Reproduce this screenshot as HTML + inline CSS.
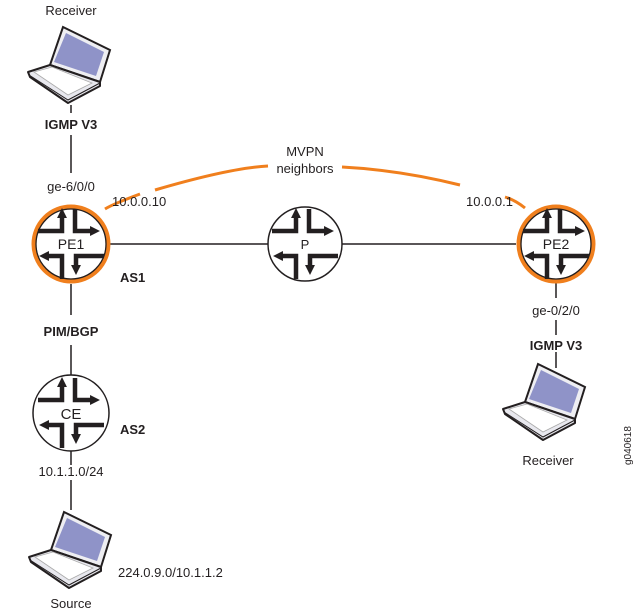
<!DOCTYPE html>
<html><head><style>
body{margin:0;background:#fff;}
svg{display:block;font-family:"Liberation Sans",sans-serif;}
</style></head><body>
<svg width="635" height="616" viewBox="0 0 635 616">
<defs>
<marker id="ah" viewBox="0 0 10 10" refX="4" refY="5" markerWidth="2.2" markerHeight="2.2" orient="auto"><path d="M0,0 L10,5 L0,10z" fill="#231f20"/></marker>
<g id="arrows" stroke="#231f20" stroke-width="4.5" fill="none">
<path d="M-33,-13 H-9 V-30" marker-end="url(#ah)"/>
<path d="M4,-35 V-13 H23" marker-end="url(#ah)"/>
<path d="M-9,35 V12 H-26" marker-end="url(#ah)"/>
<path d="M33,12 H5 V25" marker-end="url(#ah)"/>
</g>
<g id="laptop">
<path d="M35,2 L82,25 L72,57 L22,40 Z" fill="#eeeef2" stroke="#231f20" stroke-width="2"/>
<path d="M38,8 L76,27 L68,51 L26,37 Z" fill="#8f93c8"/>
<path d="M22,40 L72,57 L72,61 L40,78 L2,52 L0,47 Z" fill="#e8e8ee" stroke="#231f20" stroke-width="2" stroke-linejoin="round"/>
<path d="M6,47 L24,42 L64,58 L40,70 Z" fill="#fff" stroke="#aaa" stroke-width="0.8"/>
<path d="M1,50 L40,75 L72,58" stroke="#231f20" stroke-width="1" fill="none"/>
</g>
</defs>

<g stroke="#231f20" stroke-width="1.5">
<line x1="71" y1="105" x2="71" y2="113"/>
<line x1="71" y1="135" x2="71" y2="173"/>
<line x1="110" y1="244" x2="268" y2="244"/>
<line x1="342" y1="244" x2="516" y2="244"/>
<line x1="71" y1="284" x2="71" y2="315"/>
<line x1="71" y1="345" x2="71" y2="375"/>
<line x1="71" y1="451" x2="71" y2="465"/>
<line x1="71" y1="480" x2="71" y2="510"/>
<line x1="556" y1="283" x2="556" y2="298"/>
<line x1="556" y1="320" x2="556" y2="335"/>
<line x1="556" y1="352" x2="556" y2="368"/>
</g>

<path d="M105,209 Q113,204 140,194" stroke="#f07f1d" stroke-width="3" fill="none"/>
<path d="M155,190 Q230,168 268,166" stroke="#f07f1d" stroke-width="3" fill="none"/>
<path d="M342,167 Q400,170 460,185" stroke="#f07f1d" stroke-width="3" fill="none"/>
<path d="M505,197 Q515,200 525,208" stroke="#f07f1d" stroke-width="3" fill="none"/>

<g transform="translate(71,244)"><circle r="37" fill="#fff" stroke="#f07f1d" stroke-width="5"/><circle r="35" fill="none" stroke="#231f20" stroke-width="1.3"/><use href="#arrows"/><text y="5" text-anchor="middle" font-size="14" fill="#231f20">PE1</text></g>
<g transform="translate(305,244)"><circle r="37" fill="#fff" stroke="#231f20" stroke-width="1.5"/><use href="#arrows"/><text y="5" text-anchor="middle" font-size="13" fill="#231f20">P</text></g>
<g transform="translate(556,244)"><circle r="37" fill="#fff" stroke="#f07f1d" stroke-width="5"/><circle r="35" fill="none" stroke="#231f20" stroke-width="1.3"/><use href="#arrows"/><text y="5" text-anchor="middle" font-size="14" fill="#231f20">PE2</text></g>
<g transform="translate(71,413)"><circle r="38" fill="#fff" stroke="#231f20" stroke-width="1.5"/><use href="#arrows"/><text y="6" text-anchor="middle" font-size="15" fill="#231f20">CE</text></g>

<use href="#laptop" transform="translate(28,25)"/>
<use href="#laptop" transform="translate(29,510)"/>
<use href="#laptop" transform="translate(503,362)"/>

<g font-size="13" fill="#231f20">
<text x="71" y="15" text-anchor="middle">Receiver</text>
<text x="71" y="129" text-anchor="middle" font-weight="bold">IGMP V3</text>
<text x="71" y="191" text-anchor="middle">ge-6/0/0</text>
<text x="112" y="206">10.0.0.10</text>
<text x="305" y="156" text-anchor="middle">MVPN</text>
<text x="305" y="173" text-anchor="middle">neighbors</text>
<text x="466" y="206">10.0.0.1</text>
<text x="120" y="282" font-weight="bold">AS1</text>
<text x="71" y="336" text-anchor="middle" font-weight="bold">PIM/BGP</text>
<text x="120" y="434" font-weight="bold">AS2</text>
<text x="71" y="476" text-anchor="middle">10.1.1.0/24</text>
<text x="118" y="577">224.0.9.0/10.1.1.2</text>
<text x="71" y="608" text-anchor="middle">Source</text>
<text x="556" y="315" text-anchor="middle">ge-0/2/0</text>
<text x="556" y="350" text-anchor="middle" font-weight="bold">IGMP V3</text>
<text x="548" y="465" text-anchor="middle">Receiver</text>
<text transform="translate(631,465) rotate(-90)" font-size="10">g040618</text>
</g>
</svg>
</body></html>
